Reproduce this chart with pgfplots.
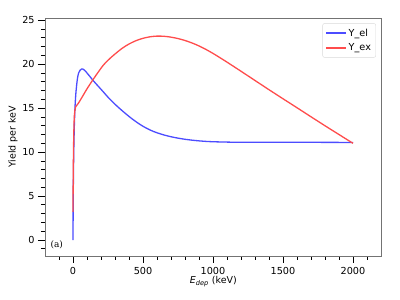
\documentclass[border=0pt]{standalone}
\usepackage{fontspec}
\setmainfont{DejaVu Sans}
\newfontfamily\serifa{DejaVu Serif}
\usepackage{pgfplots}
\pgfplotsset{compat=1.18}
\definecolor{cblue}{rgb}{0.3,0.3,1}
\definecolor{cred}{rgb}{1,0.3,0.3}
\begin{document}
\fontsize{9.7}{11.5}\selectfont
\begin{tikzpicture}
\begin{axis}[
  scale only axis,
  width=336.7bp, height=238bp,
  xmin=-200, xmax=2205,
  ymin=-1.82, ymax=25.26,
  xtick={0,500,1000,1500,2000},
  ytick={0,5,10,15,20,25},
  minor xtick={-100,100,200,300,400,600,700,800,900,1100,1200,1300,1400,1600,1700,1800,1900,2100},
  minor ytick={-1,1,2,3,4,6,7,8,9,11,12,13,14,16,17,18,19,21,22,23,24},
  tick pos=left,
  tick align=outside,
  major tick length=7bp,
  minor tick length=4bp,
  every tick/.style={black, line width=0.8bp},
  axis line style={black!55, line width=0.8bp},
  /pgf/number format/assume math mode=true,
  /pgf/number format/1000 sep={},
  tick label style={font=\fontsize{9.7}{11}\selectfont},
  xticklabel style={yshift=-1bp},
  xlabel={\textit{E}\textsubscript{\textit{dep}} (keV)},
  ylabel={Yield per keV},
  xlabel style={at={(axis description cs:0.5,-0.108)}, anchor=center, font=\fontsize{9.5}{11}\selectfont},
  ylabel style={at={(axis description cs:-0.095,0.5)}, anchor=center, font=\fontsize{9.5}{11}\selectfont},
  legend style={at={(0.983,0.978)}, anchor=north east, draw=black!15, rounded corners=2bp,
    font=\fontsize{9.7}{11}\selectfont, inner xsep=3bp, inner ysep=3.5bp, row sep=2.5bp,
    nodes={inner sep=1.8bp}, /tikz/every odd column/.append style={column sep=0bp},
    /tikz/every even column/.append style={column sep=6bp}},
  legend cell align=left,
  legend image code/.code={\draw[mark repeat=2,mark phase=2,#1] plot coordinates {(0bp,0bp) (10bp,0bp) (20bp,0bp)};},
]
\addplot[cblue, line width=1.3bp, smooth, tension=0.5] coordinates {
(0,0) (1,3) (2,5.5) (4,8.5) (6,10.5) (8,12) (10,13.2) (14,15) (20,16.6) (26,17.6)
(32,18.4) (40,19.0) (50,19.3) (60,19.45) (70,19.45) (80,19.35) (90,19.2) (100,19.0)
(120,18.62) (141,18.2) (160,17.85) (180,17.5) (200,17.15) (225,16.7) (250,16.25)
(275,15.85) (300,15.45) (325,15.08) (350,14.73) (375,14.39) (400,14.06) (425,13.75)
(450,13.46) (475,13.19) (500,12.94) (525,12.72) (550,12.52) (575,12.35) (600,12.2)
(650,11.95) (700,11.75) (750,11.59) (800,11.46) (850,11.36) (900,11.28) (950,11.22)
(1000,11.18) (1100,11.14) (1200,11.12) (1500,11.12) (1800,11.11) (2000,11.1)
};
\addlegendentry{Y\_el}
\addplot[cred, line width=1.3bp, smooth, tension=0.5] coordinates {
(0,3.2) (1,6) (2,8) (4,10.5) (6,12.3) (10,14.2) (19,15.15) (40,15.6) (74,16.5)
(100,17.2) (141,18.2) (180,19.1) (217,19.9) (250,20.45) (288,21.0) (350,21.8) (400,22.3)
(450,22.68) (500,22.95) (550,23.12) (600,23.2) (650,23.18) (700,23.08) (750,22.92)
(800,22.7) (850,22.42) (900,22.08) (950,21.68) (1000,21.23) (1050,20.74) (1100,20.24)
(1200,19.2) (1300,18.15) (1400,17.1) (1500,16.07) (1600,15.05) (1700,14.02) (1800,13.0)
(1900,12.0) (2000,11.0)
};
\addlegendentry{Y\_ex}
\node[font=\serifa\fontsize{9}{10}\selectfont] at (axis cs:-116,-0.53) {(a)};
\end{axis}
\pgfresetboundingbox
\path[use as bounding box] ([shift={(-45bp,-44bp)}]current axis.south west) rectangle ([shift={(18.3bp,18bp)}]current axis.north east);
\end{tikzpicture}
\end{document}
